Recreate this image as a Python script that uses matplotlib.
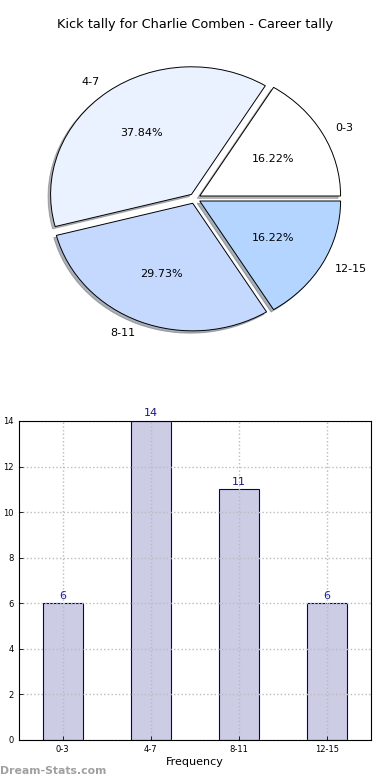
import matplotlib
matplotlib.use("Agg")
import matplotlib.pyplot as plt

categories = ["0-3", "4-7", "8-11", "12-15"]
counts = [6, 14, 11, 6]
pie_colors = ["#FFFFFF", "#EAF2FF", "#C5D9FF", "#B3D5FF"]
title = "Kick tally for Charlie Comben - Career tally"

fig = plt.figure(figsize=(3.9, 7.8), dpi=100)

# Pie chart
ax1 = fig.add_axes([0.048, 0.541, 0.903, 0.409])
wedges, texts, autotexts = ax1.pie(
    counts, labels=categories, colors=pie_colors, explode=[0.04] * 4,
    autopct="%.2f%%", shadow={"ox": -0.013, "oy": -0.013, "shade": 0.55},
    startangle=0, labeldistance=1.1,
    pctdistance=0.6, wedgeprops=dict(edgecolor="black", linewidth=0.7),
    textprops=dict(fontsize=8))
ax1.set_aspect("auto")
ax1.set_xlim(-1.25, 1.25)
ax1.set_ylim(-1.25, 1.25)
ax1.set_title(title, fontsize=9.3, pad=8)

# Bar chart
ax2 = fig.add_axes([0.048, 0.0513, 0.903, 0.409])
x = list(range(len(categories)))
bars = ax2.bar(x, counts, width=0.45, color="#CCCCE5", edgecolor="#000080",
               linewidth=0.8, zorder=2)
ax2.set_xlim(-0.5, 3.5)
ax2.set_ylim(0, 14)
ax2.set_xticks(x)
ax2.set_xticklabels(categories)
ax2.set_yticks(range(0, 15, 2))
ax2.tick_params(labelsize=6, direction="in", length=3, width=0.6)
ax2.grid(True, linestyle=":", color="#BBBBBB", linewidth=1.0, zorder=3)
ax2.set_axisbelow(False)
for sp in ax2.spines.values():
    sp.set_zorder(5)
label_colors = ["#2020A0", "#1a1a80", "#1a1a80", "#2020A0"]
for b, v, c in zip(bars, counts, label_colors):
    ax2.text(b.get_x() + b.get_width() / 2, v + 0.12, str(v), ha="center",
             va="bottom", fontsize=8, color=c, zorder=4)
ax2.set_xlabel("Frequency", fontsize=8, labelpad=2)
ax2.set_ylabel("Occurrences", fontsize=8)
ax2.yaxis.set_label_coords(-0.065, 0.5)

fig.text(0.0, 0.011, "Dream-Stats.com", fontsize=7.8, fontweight="bold",
         color="#A0A0A0", ha="left", va="center")

fig.savefig("out.png", dpi=100)
